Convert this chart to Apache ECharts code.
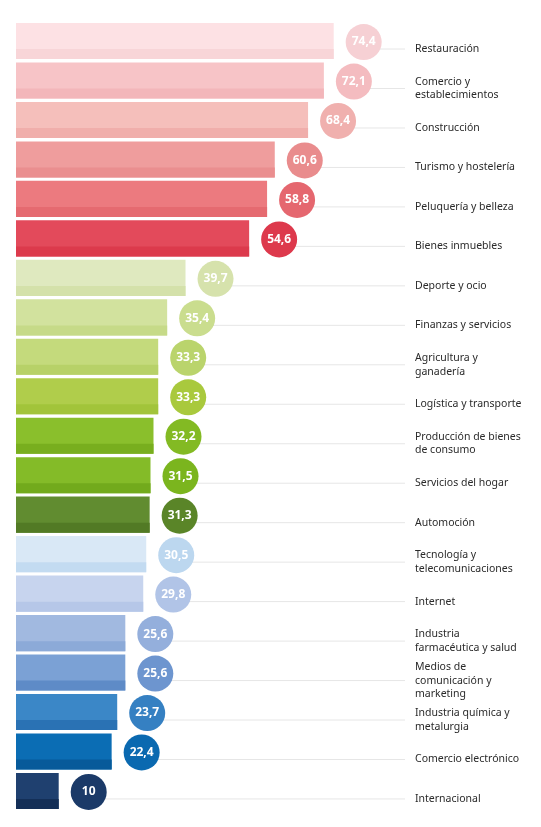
<!DOCTYPE html>
<html>
<head>
<meta charset="utf-8">
<script src="https://cdn.jsdelivr.net/npm/echarts@6/dist/echarts.min.js"></script>
<style>
  html, body { margin: 0; padding: 0; background: #ffffff; }
  #chart { width: 541px; height: 827px; }
</style>
</head>
<body>
<div id="chart"></div>
<script>
// sectores y porcentaje
var categories = [
  'Restauración',
  'Comercio y\nestablecimientos',
  'Construcción',
  'Turismo y hostelería',
  'Peluquería y belleza',
  'Bienes inmuebles',
  'Deporte y ocio',
  'Finanzas y servicios',
  'Agricultura y\nganadería',
  'Logística y transporte',
  'Producción de bienes\nde consumo',
  'Servicios del hogar',
  'Automoción',
  'Tecnología y\ntelecomunicaciones',
  'Internet',
  'Industria\nfarmacéutica y salud',
  'Medios de\ncomunicación y\nmarketing',
  'Industria química y\nmetalurgia',
  'Comercio electrónico',
  'Internacional'
]
var values = [74.4, 72.1, 68.4, 60.6, 58.8, 54.6, 39.7, 35.4, 33.3, 33.3, 32.2, 31.5, 31.3, 30.5, 29.8, 25.6, 25.6, 23.7, 22.4, 10]

// colores: barra, franja inferior, círculo
var barColors = ['#fde1e4', '#f7c4c7', '#f5bfbb', '#ef9d9d', '#ec7a7f', '#e34a5b',
  '#dfe9bf', '#d2e29e', '#c4da7c', '#b0cd4b', '#8abf2c', '#84bb28', '#618c30',
  '#d9e8f6', '#c7d4ee', '#a1b9e0', '#7ba1d5', '#3b87c7', '#0b6db4', '#1f406f']
var stripColors = ['#f8d5d8', '#f3b6ba', '#f0aeab', '#ea8e8f', '#e56a70', '#dc3a4c',
  '#d4e1aa', '#c6da88', '#b7d168', '#a2c43a', '#78ae1e', '#72aa1c', '#527a25',
  '#c3dbf1', '#b6c7e8', '#8caad8', '#5e8bc7', '#2a72b4', '#075a9a', '#142f57']
var circleColors = ['#f6d0d4', '#f4bcc0', '#f0b0ae', '#e98c8d', '#e5676f', '#dd394c',
  '#d6e2ac', '#cadd8e', '#bad46c', '#a9c93d', '#83ba23', '#7bb51e', '#5a8528',
  '#bcd7ef', '#b1c4e7', '#94afdc', '#6d95cf', '#3580c2', '#0a69b0', '#1b3a68']

var chart = echarts.init(document.getElementById('chart'))

var data = values.map(function (v, i) { return [i, v] })

function renderItem(params, api) {
  var idx = api.value(0)
  var v = api.value(1)
  var start = api.coord([0, idx])
  var end = api.coord([v, idx])
  var band = api.size([0, 1])[1]
  var h = band * 0.915
  var top = start[1] - h / 2
  var cx = end[0] + 30
  var cy = start[1] + 1
  var lineY = start[1] + 8
  var txt = String(v).replace('.', ',')
  return {
    type: 'group',
    children: [
      {
        type: 'line',
        shape: { x1: cx, y1: lineY, x2: 405, y2: lineY },
        style: { stroke: '#e6e6e6', lineWidth: 1 }
      },
      {
        type: 'rect',
        shape: { x: start[0], y: top, width: end[0] - start[0], height: h },
        style: { fill: barColors[idx] }
      },
      {
        type: 'rect',
        shape: { x: start[0], y: top + h - 10, width: end[0] - start[0], height: 10 },
        style: { fill: stripColors[idx] }
      },
      {
        type: 'circle',
        shape: { cx: cx, cy: cy, r: 18 },
        style: { fill: circleColors[idx] }
      },
      {
        type: 'text',
        x: cx,
        y: cy,
        style: {
          text: txt,
          fill: '#ffffff',
          font: 'bold 12px "Noto Sans"',
          align: 'center',
          verticalAlign: 'middle'
        }
      },
      {
        type: 'text',
        x: 415,
        y: lineY,
        style: {
          text: categories[idx],
          fill: '#2a2a2a',
          font: '10.5px "Noto Sans"',
          lineHeight: 13.5,
          align: 'left',
          verticalAlign: 'middle'
        }
      }
    ]
  }
}

var option = {
  animation: false,
  grid: { left: 16, right: 98, top: 21.3, bottom: 16.3 },
  xAxis: { type: 'value', min: 0, max: 100, show: false },
  yAxis: { type: 'category', data: categories, inverse: true, show: false },
  series: [
    {
      type: 'custom',
      renderItem: renderItem,
      encode: { x: 1, y: 0 },
      data: data
    }
  ]
}

chart.setOption(option)
</script>
</body>
</html>
